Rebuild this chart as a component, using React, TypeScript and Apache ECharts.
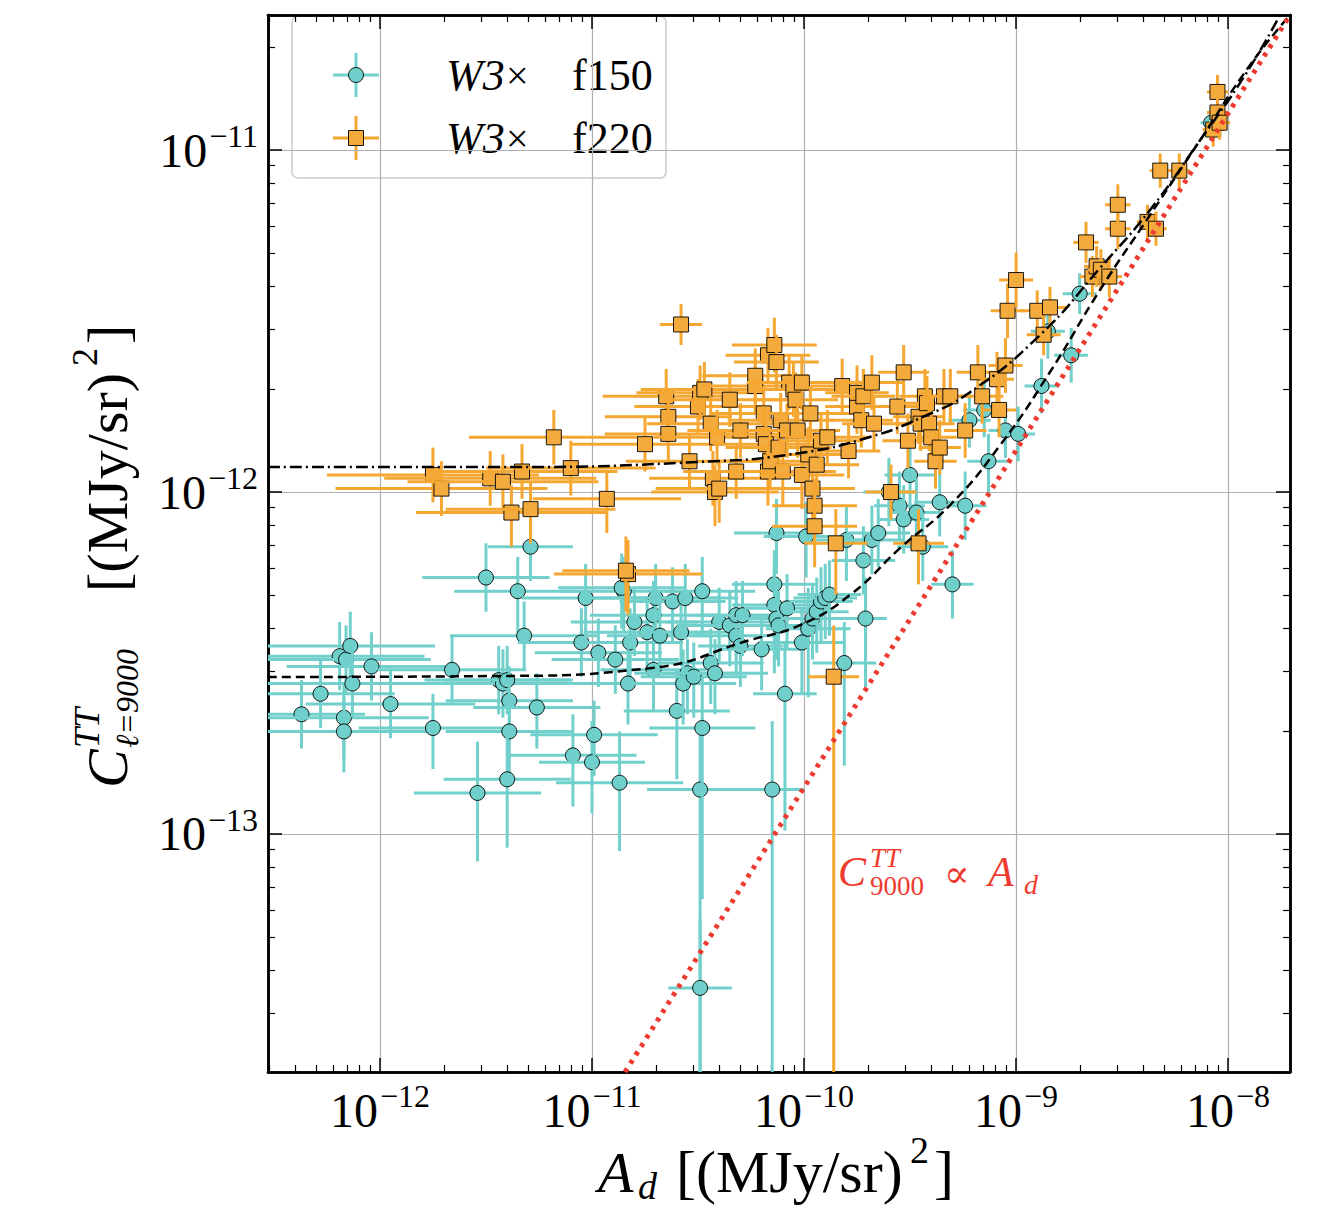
import React, { useEffect, useRef } from "react";
import * as echarts from "echarts";

// all values in log10 units: [log A_d, log C, xErr, yErrLow, yErrHigh]
const f150Points: number[][] = [
  [-12.37, -12.65, 0.3, 0.1, 0.1], [-12.28, -12.59, 0.35, 0.1, 0.1], [-12.19, -12.48, 0.4, 0.1, 0.1],
  [-12.17, -12.66, 0.4, 0.12, 0.1], [-12.17, -12.7, 0.4, 0.12, 0.1], [-12.16, -12.49, 0.4, 0.1, 0.1],
  [-12.14, -12.45, 0.4, 0.1, 0.1], [-12.13, -12.56, 0.4, 0.1, 0.1], [-12.04, -12.51, 0.4, 0.1, 0.1],
  [-11.95, -12.62, 0.4, 0.1, 0.1], [-11.75, -12.69, 0.35, 0.12, 0.1], [-11.66, -12.52, 0.35, 0.1, 0.1],
  [-11.54, -12.88, 0.3, 0.2, 0.15], [-11.5, -12.25, 0.3, 0.1, 0.1], [-11.44, -12.55, 0.35, 0.1, 0.1],
  [-11.42, -12.56, 0.35, 0.1, 0.1], [-11.4, -12.55, 0.3, 0.1, 0.1], [-11.39, -12.61, 0.3, 0.12, 0.1],
  [-11.39, -12.7, 0.3, 0.15, 0.12], [-11.4, -12.84, 0.3, 0.2, 0.15], [-11.35, -12.29, 0.3, 0.12, 0.1],
  [-11.32, -12.42, 0.35, 0.1, 0.1], [-11.29, -12.16, 0.2, 0.1, 0.1], [-11.26, -12.63, 0.3, 0.12, 0.1],
  [-11.09, -12.77, 0.3, 0.15, 0.12], [-11.05, -12.44, 0.3, 0.1, 0.1], [-11.03, -12.31, 0.3, 0.12, 0.1],
  [-11.0, -12.79, 0.25, 0.15, 0.12], [-10.99, -12.71, 0.3, 0.12, 0.1], [-10.97, -12.47, 0.3, 0.1, 0.1],
  [-10.89, -12.49, 0.3, 0.1, 0.1], [-10.87, -12.85, 0.3, 0.2, 0.15], [-10.85, -12.29, 0.3, 0.12, 0.1],
  [-10.86, -12.28, 0.3, 0.12, 0.1], [-10.82, -12.44, 0.25, 0.1, 0.1], [-10.83, -12.56, 0.25, 0.12, 0.1],
  [-10.8, -12.38, 0.3, 0.1, 0.1], [-10.74, -12.41, 0.3, 0.1, 0.1], [-10.71, -12.36, 0.3, 0.1, 0.1],
  [-10.71, -12.52, 0.25, 0.12, 0.1], [-10.7, -12.31, 0.3, 0.12, 0.1], [-10.68, -12.42, 0.25, 0.1, 0.1],
  [-10.62, -12.32, 0.25, 0.12, 0.1], [-10.6, -12.64, 0.25, 0.2, 0.12], [-10.58, -12.41, 0.25, 0.1, 0.1],
  [-10.55, -12.53, 0.25, 0.12, 0.1], [-10.57, -12.56, 0.25, 0.12, 0.1], [-10.56, -12.31, 0.25, 0.12, 0.1],
  [-10.52, -12.54, 0.25, 0.12, 0.1], [-10.49, -12.87, 0.25, 0.9, 0.2], [-10.48, -12.29, 0.25, 0.12, 0.1],
  [-10.48, -12.69, 0.25, 0.5, 0.15], [-10.44, -12.5, 0.25, 0.12, 0.1], [-10.42, -12.53, 0.25, 0.12, 0.1],
  [-10.4, -12.38, 0.25, 0.12, 0.1], [-10.35, -12.39, 0.25, 0.12, 0.1], [-10.32, -12.42, 0.2, 0.12, 0.1],
  [-10.32, -12.36, 0.2, 0.12, 0.1], [-10.3, -12.45, 0.2, 0.12, 0.1], [-10.29, -12.36, 0.2, 0.12, 0.1],
  [-10.2, -12.46, 0.2, 0.12, 0.1], [-10.15, -12.87, 0.15, 0.9, 0.2], [-10.13, -12.12, 0.2, 0.12, 0.1],
  [-10.14, -12.27, 0.2, 0.12, 0.1], [-10.14, -12.33, 0.2, 0.2, 0.12], [-10.13, -12.37, 0.2, 0.12, 0.1],
  [-10.12, -12.39, 0.2, 0.12, 0.1], [-10.09, -12.59, 0.15, 0.4, 0.15], [-10.08, -12.34, 0.2, 0.12, 0.1],
  [-10.01, -12.44, 0.2, 0.15, 0.1], [-9.99, -12.13, 0.2, 0.12, 0.1], [-9.98, -12.4, 0.2, 0.2, 0.12],
  [-9.96, -12.37, 0.15, 0.12, 0.1], [-9.94, -12.35, 0.15, 0.12, 0.1], [-9.92, -12.32, 0.15, 0.12, 0.1],
  [-9.9, -12.31, 0.15, 0.12, 0.1], [-9.88, -12.3, 0.15, 0.12, 0.1], [-9.81, -12.5, 0.15, 0.3, 0.12],
  [-9.8, -12.14, 0.15, 0.12, 0.1], [-9.72, -12.2, 0.15, 0.1, 0.1], [-9.71, -12.37, 0.1, 0.2, 0.12],
  [-9.68, -12.14, 0.15, 0.1, 0.1], [-9.65, -12.12, 0.15, 0.1, 0.1], [-9.6, -12.0, 0.12, 0.1, 0.1],
  [-9.55, -12.04, 0.12, 0.1, 0.1], [-9.53, -12.08, 0.12, 0.1, 0.1], [-9.5, -11.95, 0.12, 0.1, 0.1],
  [-9.47, -12.06, 0.12, 0.1, 0.1], [-9.44, -12.16, 0.12, 0.1, 0.1], [-9.36, -12.03, 0.12, 0.1, 0.1],
  [-9.3, -12.27, 0.1, 0.1, 0.1], [-9.24, -12.04, 0.1, 0.1, 0.1], [-9.22, -11.79, 0.1, 0.08, 0.08],
  [-9.15, -11.76, 0.1, 0.08, 0.08], [-9.13, -11.91, 0.1, 0.1, 0.08], [-9.05, -11.82, 0.08, 0.08, 0.08],
  [-8.99, -11.83, 0.08, 0.08, 0.08], [-8.88, -11.69, 0.08, 0.08, 0.08], [-8.85, -11.53, 0.08, 0.08, 0.08],
  [-8.74, -11.6, 0.08, 0.08, 0.08], [-8.7, -11.42, 0.08, 0.06, 0.06], [-8.08, -10.92, 0.05, 0.05, 0.05],
  [-10.49, -13.45, 0.15, 0.4, 0.2],
];

const f220Points: number[][] = [
  [-11.75, -11.95, 0.5, 0.08, 0.08], [-11.71, -11.99, 0.5, 0.08, 0.08], [-11.48, -11.96, 0.5, 0.08, 0.08],
  [-11.42, -11.97, 0.45, 0.08, 0.08], [-11.38, -12.06, 0.45, 0.1, 0.08], [-11.33, -11.94, 0.45, 0.08, 0.08],
  [-11.29, -12.05, 0.4, 0.1, 0.08], [-11.18, -11.84, 0.4, 0.08, 0.08], [-11.1, -11.93, 0.4, 0.08, 0.08],
  [-10.93, -12.02, 0.35, 0.1, 0.08], [-10.83, -12.24, 0.35, 0.12, 0.1], [-10.84, -12.23, 0.3, 0.12, 0.1],
  [-10.75, -11.86, 0.35, 0.08, 0.08], [-10.58, -11.51, 0.1, 0.06, 0.06], [-10.65, -11.72, 0.3, 0.08, 0.08],
  [-10.64, -11.78, 0.3, 0.08, 0.08], [-10.64, -11.83, 0.3, 0.08, 0.08], [-10.54, -11.91, 0.3, 0.08, 0.08],
  [-10.5, -11.75, 0.3, 0.08, 0.08], [-10.49, -11.71, 0.3, 0.08, 0.08], [-10.47, -11.7, 0.3, 0.08, 0.08],
  [-10.44, -11.8, 0.3, 0.08, 0.08], [-10.43, -11.96, 0.3, 0.08, 0.08], [-10.42, -12.0, 0.3, 0.1, 0.08],
  [-10.41, -11.84, 0.3, 0.08, 0.08], [-10.4, -11.99, 0.3, 0.1, 0.08], [-10.35, -11.73, 0.3, 0.08, 0.08],
  [-10.32, -11.94, 0.25, 0.08, 0.08], [-10.3, -11.82, 0.25, 0.08, 0.08], [-10.23, -11.69, 0.25, 0.08, 0.08],
  [-10.23, -11.66, 0.25, 0.08, 0.08], [-10.19, -11.77, 0.25, 0.08, 0.08], [-10.17, -11.6, 0.2, 0.08, 0.08],
  [-10.19, -11.83, 0.25, 0.08, 0.08], [-10.18, -11.86, 0.25, 0.08, 0.08], [-10.17, -11.94, 0.25, 0.1, 0.08],
  [-10.16, -11.91, 0.25, 0.08, 0.08], [-10.14, -11.57, 0.2, 0.08, 0.08], [-10.13, -11.62, 0.2, 0.08, 0.08],
  [-10.12, -11.87, 0.25, 0.08, 0.08], [-10.11, -11.79, 0.25, 0.08, 0.08], [-10.1, -11.94, 0.25, 0.1, 0.08],
  [-10.08, -11.82, 0.2, 0.08, 0.08], [-10.07, -11.68, 0.2, 0.08, 0.08], [-10.05, -11.7, 0.2, 0.08, 0.08],
  [-10.04, -11.73, 0.2, 0.08, 0.08], [-10.03, -11.82, 0.2, 0.08, 0.08], [-10.01, -11.68, 0.2, 0.08, 0.08],
  [-10.01, -11.95, 0.2, 0.1, 0.08], [-9.98, -11.89, 0.2, 0.08, 0.08], [-9.97, -11.77, 0.2, 0.08, 0.08],
  [-9.96, -11.99, 0.2, 0.1, 0.08], [-9.95, -12.04, 0.2, 0.12, 0.08], [-9.95, -12.1, 0.2, 0.12, 0.1],
  [-9.94, -11.92, 0.2, 0.08, 0.08], [-9.92, -11.85, 0.2, 0.08, 0.08], [-9.89, -11.84, 0.2, 0.08, 0.08],
  [-9.85, -12.15, 0.15, 0.15, 0.1], [-9.82, -11.69, 0.15, 0.08, 0.08], [-9.79, -11.88, 0.15, 0.08, 0.08],
  [-9.75, -11.75, 0.15, 0.08, 0.08], [-9.75, -11.71, 0.15, 0.08, 0.08], [-9.73, -11.79, 0.15, 0.08, 0.08],
  [-9.72, -11.72, 0.15, 0.08, 0.08], [-9.68, -11.68, 0.15, 0.08, 0.08], [-9.67, -11.8, 0.15, 0.08, 0.08],
  [-9.59, -12.0, 0.12, 0.08, 0.08], [-9.56, -11.75, 0.12, 0.08, 0.08], [-9.53, -11.65, 0.12, 0.08, 0.08],
  [-9.51, -11.85, 0.12, 0.08, 0.08], [-9.46, -12.15, 0.12, 0.12, 0.1], [-9.46, -11.78, 0.12, 0.08, 0.08],
  [-9.45, -11.8, 0.12, 0.08, 0.08], [-9.43, -11.72, 0.12, 0.08, 0.08], [-9.42, -11.74, 0.12, 0.08, 0.08],
  [-9.41, -11.8, 0.12, 0.08, 0.08], [-9.4, -11.84, 0.12, 0.08, 0.08], [-9.38, -11.91, 0.1, 0.08, 0.08],
  [-9.36, -11.87, 0.1, 0.08, 0.08], [-9.34, -11.72, 0.1, 0.08, 0.08], [-9.31, -11.72, 0.1, 0.08, 0.08],
  [-9.24, -11.82, 0.1, 0.08, 0.08], [-9.18, -11.65, 0.1, 0.08, 0.08], [-9.16, -11.72, 0.1, 0.08, 0.08],
  [-9.09, -11.67, 0.08, 0.08, 0.08], [-9.08, -11.76, 0.08, 0.08, 0.08], [-9.05, -11.63, 0.08, 0.08, 0.08],
  [-9.04, -11.47, 0.08, 0.08, 0.08], [-9.0, -11.38, 0.08, 0.08, 0.08], [-8.9, -11.47, 0.08, 0.06, 0.06],
  [-8.87, -11.54, 0.08, 0.06, 0.06], [-8.84, -11.46, 0.08, 0.06, 0.06], [-8.67, -11.27, 0.06, 0.06, 0.06],
  [-8.64, -11.37, 0.06, 0.06, 0.06], [-8.62, -11.34, 0.06, 0.06, 0.06], [-8.6, -11.35, 0.06, 0.06, 0.06],
  [-8.56, -11.37, 0.06, 0.06, 0.06], [-8.52, -11.23, 0.06, 0.06, 0.06], [-8.52, -11.16, 0.06, 0.06, 0.06],
  [-8.38, -11.21, 0.05, 0.05, 0.05], [-8.34, -11.23, 0.05, 0.05, 0.05], [-8.32, -11.06, 0.05, 0.05, 0.05],
  [-8.23, -11.06, 0.05, 0.05, 0.05], [-8.07, -10.94, 0.05, 0.05, 0.05], [-8.05, -10.83, 0.05, 0.05, 0.05],
  [-8.05, -10.89, 0.05, 0.05, 0.05], [-8.04, -10.92, 0.05, 0.05, 0.05],
  [-9.86, -12.54, 0.12, 1.5, 0.15],
];

// fitted curves, log10 units
const fit220: number[][] = [
  [-12.528, -11.927], [-11.434, -11.927], [-10.491, -11.912], [-10.019, -11.886], [-9.689, -11.839],
  [-9.453, -11.784], [-9.217, -11.708], [-8.887, -11.541], [-8.604, -11.345], [-8.368, -11.175],
  [-8.132, -10.971], [-7.92, -10.781], [-7.755, -10.605],
];
const fit150: number[][] = [
  [-12.528, -12.541], [-11.434, -12.538], [-10.726, -12.515], [-10.255, -12.433], [-10.019, -12.389],
  [-9.783, -12.301], [-9.547, -12.164], [-9.311, -12.038], [-9.075, -11.863], [-8.84, -11.649],
  [-8.604, -11.409], [-8.368, -11.19], [-8.132, -10.971], [-7.896, -10.751], [-7.708, -10.605],
];
const linearRelation: number[][] = [
  [-10.844, -13.696], [-7.708, -10.605],
];

const xMajor = [-12, -11, -10, -9, -8];
const yMajor = [-13, -12, -11];
const X_MIN = -12.528, X_MAX = -7.708, Y_MIN = -13.696, Y_MAX = -10.605;

const CYAN = "#71d0cb";
const CYAN_FILL = "#6fcfca";
const ORANGE = "#f5a732";
const ORANGE_FILL = "#f3ab3e";
const RED = "#ee3b2f";
const FONT = "'Liberation Serif', 'DejaVu Serif', serif";

const minorTicks = (lo: number, hi: number) => {
  const out: number[] = [];
  for (let d = Math.floor(lo); d <= Math.ceil(hi); d++) {
    for (let k = 2; k <= 9; k++) {
      const v = d + Math.log10(k);
      if (v > lo && v < hi) out.push(v);
    }
  }
  return out;
};

const tickLabel = (v: number) => `{b|10}{s|−${Math.round(-v)}}`;
const labelRich = {
  b: { fontSize: 48, fontFamily: FONT, color: "#000" },
  s: { fontSize: 32, fontFamily: FONT, color: "#000", padding: [0, 0, 28, 2] },
};

const errorSeries = (data: number[][], barColor: string, fill: string, square: boolean) => ({
  type: "custom",
  clip: true,
  data,
  encode: { x: 0, y: 1 },
  renderItem: (_: any, api: any) => {
    const x = api.value(0), y = api.value(1), xe = api.value(2), lo = api.value(3), hi = api.value(4);
    const c = api.coord([x, y]);
    const l = api.coord([x - xe, y]);
    const r = api.coord([x + xe, y]);
    const b = api.coord([x, y - lo]);
    const t = api.coord([x, y + hi]);
    const ls = { stroke: barColor, lineWidth: 3 };
    const marker = square
      ? { type: "rect", shape: { x: c[0] - 7.5, y: c[1] - 7.5, width: 15, height: 15 }, style: { fill, stroke: "#000", lineWidth: 0.9 } }
      : { type: "circle", shape: { cx: c[0], cy: c[1], r: 7.5 }, style: { fill, stroke: "#000", lineWidth: 0.9 } };
    return {
      type: "group",
      children: [
        { type: "line", shape: { x1: l[0], y1: l[1], x2: r[0], y2: r[1] }, style: ls },
        { type: "line", shape: { x1: b[0], y1: b[1], x2: t[0], y2: t[1] }, style: ls },
        marker,
      ],
    };
  },
});

const txt = (x: number, y: number, text: string, size: number, italic: boolean, fill = "#000") => ({
  type: "text", x, y,
  style: { text, fill, fontSize: size, fontFamily: FONT, fontStyle: italic ? "italic" : "normal", verticalAlign: "middle", textAlign: "left" },
});

const App: React.FC = () => {
  const chartRef = useRef<HTMLDivElement>(null);

  useEffect(() => {
    document.body.style.margin = "0";
    if (!chartRef.current) return;
    const chart = echarts.init(chartRef.current, undefined, { renderer: "svg" });

    const axisBase = {
      type: "value",
      axisLine: { show: true, onZero: false, lineStyle: { color: "#000", width: 2.5 } },
      axisLabel: { show: false },
      splitLine: { show: false },
    };
    const minorX = minorTicks(X_MIN, X_MAX);
    const minorY = minorTicks(Y_MIN, Y_MAX);
    const tickMajor = (vals: number[]) => ({ show: true, inside: true, length: 14, customValues: vals, lineStyle: { color: "#000", width: 1.5 } });
    const tickMinor = (vals: number[]) => ({ show: true, inside: true, length: 7, customValues: vals, lineStyle: { color: "#000", width: 1.2 } });

    const xAxes: any[] = [
      {
        ...axisBase, min: X_MIN, max: X_MAX, position: "bottom",
        axisTick: tickMajor(xMajor),
        axisLabel: { show: true, customValues: xMajor, formatter: tickLabel, rich: labelRich, margin: 8 },
        splitLine: { show: true, lineStyle: { color: "#b0b0b0", width: 1.2 } },
      },
      { ...axisBase, min: X_MIN, max: X_MAX, position: "bottom", axisTick: tickMinor(minorX) },
      { ...axisBase, min: X_MIN, max: X_MAX, position: "top", axisTick: tickMajor(xMajor) },
      { ...axisBase, min: X_MIN, max: X_MAX, position: "top", axisTick: tickMinor(minorX) },
    ];
    const yAxes: any[] = [
      {
        ...axisBase, min: Y_MIN, max: Y_MAX, position: "left",
        axisTick: tickMajor(yMajor),
        axisLabel: { show: true, customValues: yMajor, formatter: tickLabel, rich: labelRich, margin: 10 },
        splitLine: { show: true, lineStyle: { color: "#b0b0b0", width: 1.2 } },
      },
      { ...axisBase, min: Y_MIN, max: Y_MAX, position: "left", axisTick: tickMinor(minorY) },
      { ...axisBase, min: Y_MIN, max: Y_MAX, position: "right", axisTick: tickMajor(yMajor) },
      { ...axisBase, min: Y_MIN, max: Y_MAX, position: "right", axisTick: tickMinor(minorY) },
    ];

    const lineSeries = (data: number[][], color: string, type: any, width: number) => ({
      type: "line",
      data,
      showSymbol: false,
      smooth: true,
      clip: true,
      lineStyle: { color, type, width },
      z: 5,
    });

    const legendItem = (y: number, color: string, fill: string, square: boolean, label: string) => [
      { type: "line", shape: { x1: 333, y1: y, x2: 379, y2: y }, style: { stroke: color, lineWidth: 3 } },
      { type: "line", shape: { x1: 356, y1: y - 22, x2: 356, y2: y + 22 }, style: { stroke: color, lineWidth: 3 } },
      square
        ? { type: "rect", shape: { x: 348.5, y: y - 7.5, width: 15, height: 15 }, style: { fill, stroke: "#000", lineWidth: 0.9 } }
        : { type: "circle", shape: { cx: 356, cy: y, r: 7.5 }, style: { fill, stroke: "#000", lineWidth: 0.9 } },
      txt(446, y, "W3", 44, true),
      txt(506, y, "×", 40, false),
      txt(572, y, label, 44, false),
    ];

    const option: any = {
      animation: false,
      grid: { left: 268, top: 15, width: 1022, height: 1057, containLabel: false },
      xAxis: xAxes,
      yAxis: yAxes,
      series: [
        errorSeries(f150Points, CYAN, CYAN_FILL, false),
        errorSeries(f220Points, ORANGE, ORANGE_FILL, true),
        lineSeries(fit150, "#000", [9, 5], 2.5),
        lineSeries(fit220, "#000", [12, 4, 2, 4], 2.5),
        { ...lineSeries(linearRelation, RED, [4, 6], 5), smooth: false, lineStyle: { color: RED, type: [4, 6], width: 5, cap: "butt" } },
      ],
      graphic: [
        {
          type: "group", z: 100,
          children: [
            {
              type: "rect", shape: { x: 292, y: 16, width: 374, height: 162, r: 6 },
              style: { fill: "rgba(255,255,255,0.8)", stroke: "#cccccc", lineWidth: 1.5 },
            },
            ...legendItem(75, CYAN, CYAN_FILL, false, "f150"),
            ...legendItem(138, ORANGE, ORANGE_FILL, true, "f220"),
          ],
        },
        {
          type: "group", z: 100,
          children: [
            txt(838, 872, "C", 42, true, RED),
            txt(870, 858, "TT", 27, true, RED),
            txt(870, 886, "9000", 27, false, RED),
            txt(944, 874, "∝", 38, false, RED),
            txt(988, 872, "A", 42, true, RED),
            txt(1024, 884, "d", 28, true, RED),
          ],
        },
        {
          // x-axis title
          type: "group", z: 100,
          children: [
            txt(598, 1172, "A", 58, true),
            txt(638, 1186, "d", 38, true),
            txt(676, 1172, "[(MJy/sr)", 60, false),
            txt(910, 1150, "2", 38, false),
            txt(934, 1172, "]", 60, false),
          ],
        },
        {
          // y-axis title, rotated to read upwards
          type: "group", x: 107, y: 548, rotation: Math.PI / 2, z: 100,
          children: [
            txt(-240, 0, "C", 58, true),
            txt(-200, -20, "TT", 36, true),
            txt(-200, 20, "ℓ=9000", 32, true),
            txt(-44, 0, "[(MJy/sr)", 58, false),
            txt(182, -22, "2", 36, false),
            txt(204, 0, "]", 58, false),
          ],
        },
      ],
    };

    chart.setOption(option);
    return () => chart.dispose();
  }, []);

  return <div ref={chartRef} style={{ width: 1342, height: 1226 }} />;
};

export default App;
